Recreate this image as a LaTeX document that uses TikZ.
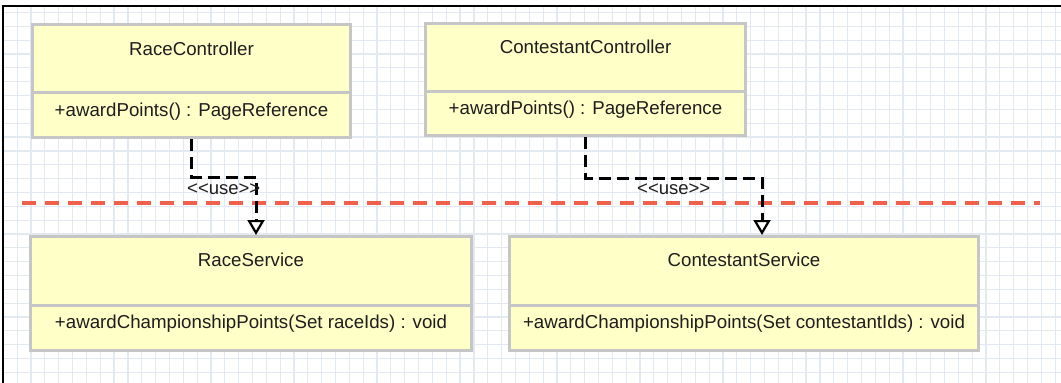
\documentclass[tikz,border=0pt]{standalone}
\usepackage{fontspec}
\setmainfont{Liberation Sans}
\usetikzlibrary{arrows.meta, positioning, calc}
\definecolor{gridBlue}{HTML}{E2E9F1}
\definecolor{classFill}{HTML}{FFFFC8}
\definecolor{classEdge}{HTML}{C6C6C6}
\definecolor{layerRed}{HTML}{F0604B}
\definecolor{inkGray}{HTML}{1E1E1E}
\newcommand{\usetag}{<\kern0pt<use>\kern0pt>}

\begin{document}
\begin{tikzpicture}[x=1pt, y=-1pt,
  classbox/.style={draw=classEdge, fill=classFill, line width=3pt, inner sep=0pt},
  classtext/.style={font=\fontsize{18.7}{22}\selectfont, text=inkGray, inner sep=0pt, anchor=base},
  divider/.style={draw=classEdge, line width=3pt},
  usedep/.style={line width=3pt, dash pattern=on 12pt off 6pt,
               -{Triangle[length=15pt, width=17pt, fill=white, line width=2.2pt]}},
  uselabel/.style={font=\fontsize{18.5}{22}\selectfont, text=inkGray, inner sep=0pt, anchor=base},
  layersep/.style={draw=layerRed, line width=4.5pt, dash pattern=on 14pt off 9pt}
]
  \useasboundingbox (0,0) rectangle (1061,383);
  \fill[white] (0,0) rectangle (1061,383);

  % grid paper
  \foreach \i in {0,...,75}
    \draw[gridBlue, line width=1.2pt] ({17.2+13.84*\i},6) -- ({17.2+13.84*\i},383);
  \foreach \j in {0,...,26}
    \draw[gridBlue, line width=1.2pt] (3,{12.5+13.84*\j}) -- (1061,{12.5+13.84*\j});
  \draw[black, line width=1.5pt] (3,383) -- (3,6) -- (1061,6);

  % layer boundary
  \coordinate (sepL) at (22,203);
  \coordinate (sepR) at (1040,203);
  \draw[layersep] (sepL) -- (sepR);

  % controllers
  \node[classbox, minimum width=318pt, minimum height=113pt] (rc) at (191.5,81) {};
  \draw[divider] (rc.west |- 0,92) -- (rc.east |- 0,92);
  \node[classtext] (rcName) at (rc.center |- 0,55) {RaceController};
  \node[classtext] (rcOp) at (rc.center |- 0,116) {+awardPoints() : PageReference};

  \node[classbox, minimum width=320pt, minimum height=112pt] (cc) at (585.5,79.5) {};
  \draw[divider] (cc.west |- 0,91) -- (cc.east |- 0,91);
  \node[classtext] (ccName) at (cc.center |- 0,53.5) {ContestantController};
  \node[classtext] (ccOp) at (cc.center |- 0,114.5) {+awardPoints() : PageReference};

  % services
  \node[classbox, minimum width=441pt, minimum height=114pt] (rs) at (251,293.5) {};
  \draw[divider] (rs.west |- 0,305) -- (rs.east |- 0,305);
  \node[classtext] (rsName) at (rs.center |- 0,266.5) {RaceService};
  \node[classtext] (rsOp) at (rs.center |- 0,328) {+awardChampionshipPoints(Set raceIds) : void};

  \node[classbox, minimum width=469pt, minimum height=114pt] (cs) at (744,293.5) {};
  \draw[divider] (cs.west |- 0,305) -- (cs.east |- 0,305);
  \node[classtext] (csName) at (cs.center |- 0,266) {ContestantService};
  \node[classtext] (csOp) at (cs.center |- 0,328) {+awardChampionshipPoints(Set contestantIds) : void};

  % dependencies
  \draw[usedep] (rc.south) -- ++(0,38)
    -| node[pos=0.25, uselabel, yshift=-17pt] {\usetag} ([xshift=5pt]rs.north);
  \draw[usedep] (cc.south) -- ++(0,41)
    -| node[pos=0.25, uselabel, yshift=-16pt] {\usetag} ([xshift=18pt]cs.north);
\end{tikzpicture}
\end{document}
